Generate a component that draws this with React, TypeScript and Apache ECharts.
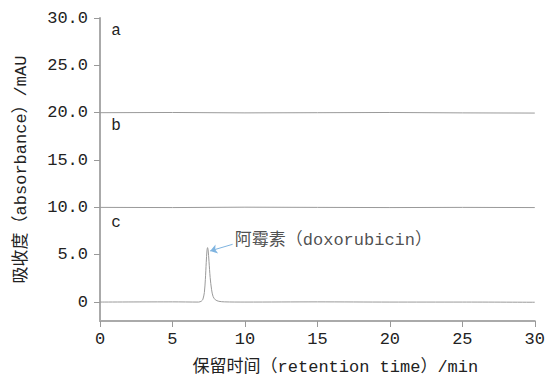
import React, { useEffect, useRef } from "react";
import * as echarts from "echarts";

// Retention time (min) and absorbance (mAU)
const traceA: [number, number][] = [[0, 20.0], [5, 20.02], [10, 19.98], [15, 20.0], [20, 20.02], [25, 19.98], [30, 19.96]];
const traceB: [number, number][] = [[0, 10.0], [5, 9.98], [10, 10.02], [15, 10.0], [20, 9.98], [25, 10.0], [30, 9.98]];
const traceC: [number, number][] = [
  [0, 0.0], [5, 0.02], [6.8, 0.0], [7.0, 0.1], [7.1, 0.3], [7.2, 1.0], [7.27, 2.4],
  [7.33, 4.2], [7.38, 5.4], [7.42, 5.75], [7.46, 5.5], [7.52, 4.3], [7.6, 2.6],
  [7.7, 1.3], [7.8, 0.6], [7.95, 0.25], [8.2, 0.08], [8.6, 0.02], [10, 0.0],
  [15, 0.02], [20, 0.0], [25, 0.0], [30, -0.02],
];
const traceNames = ["a", "b", "c"];
const traceLabelPos: [number, number][] = [[1.1, 28.6], [1.1, 18.6], [1.1, 8.4]];
const yTicks = [0, 5, 10, 15, 20, 25, 30];
const peakLabel = "阿霉素（doxorubicin）";
const peakLabelPos: [number, number] = [9.3, 6.45];
const arrowFrom: [number, number] = [9.15, 6.1];
const arrowTo: [number, number] = [7.6, 5.4];

const FONT = "'Liberation Mono', 'Noto Sans CJK SC', monospace";

export default function App() {
  const ref = useRef<HTMLDivElement>(null);
  useEffect(() => {
    if (!ref.current) return;
    const chart = echarts.init(ref.current, undefined, { renderer: "svg" });
    const traces = [traceA, traceB, traceC];
    const series: any[] = traces.map((d, i) => ({
      type: "line",
      name: traceNames[i],
      data: d,
      smooth: i === 2 ? 0.3 : false,
      showSymbol: false,
      lineStyle: { color: "#9a9a9a", width: 1 },
      markPoint: {
        symbol: "circle",
        symbolSize: 0,
        silent: true,
        data: [{ coord: traceLabelPos[i], value: traceNames[i] }],
        label: {
          show: true,
          position: "inside",
          formatter: traceNames[i],
          color: "#222",
          fontSize: 16,
          fontFamily: FONT,
        },
      },
    }));
    series[2].markLine = {
      silent: true,
      symbol: ["none", "arrow"],
      symbolSize: 7,
      lineStyle: { color: "#7fb4e0", width: 1, type: "solid" },
      label: { show: false },
      data: [[{ coord: arrowFrom }, { coord: arrowTo }]],
    };
    series.push({
      type: "scatter",
      data: [peakLabelPos],
      symbolSize: 0,
      silent: true,
      label: {
        show: true,
        position: "right",
        distance: 0,
        formatter: peakLabel,
        color: "#222",
        fontSize: 17,
        fontFamily: FONT,
      },
    });
    chart.setOption({
      animation: false,
      grid: { left: 100, right: 10, top: 18, bottom: 61, containLabel: false },
      xAxis: {
        type: "value",
        min: 0,
        max: 30,
        interval: 5,
        name: "保留时间（retention time）/min",
        nameLocation: "middle",
        nameGap: 38,
        nameTextStyle: { fontSize: 17, color: "#222", fontFamily: FONT, padding: [0, 0, 0, 36] },
        axisLine: { show: true, onZero: false, lineStyle: { color: "#aaa", width: 2 } },
        axisTick: { show: true, length: 6, lineStyle: { color: "#999" } },
        axisLabel: { fontSize: 17, color: "#222", fontFamily: FONT, margin: 10 },
        splitLine: { show: false },
      },
      yAxis: {
        type: "value",
        min: -2,
        max: 30,
        name: "吸收度（absorbance）/mAU",
        nameLocation: "middle",
        nameGap: 70,
        nameTextStyle: { fontSize: 17, color: "#222", fontFamily: FONT },
        axisLine: { show: true, lineStyle: { color: "#aaa", width: 2 } },
        axisTick: { show: true, length: 6, customValues: yTicks, lineStyle: { color: "#999" } },
        axisLabel: {
          customValues: yTicks,
          fontSize: 17,
          color: "#222",
          fontFamily: FONT,
          margin: 12,
          formatter: (v: number) => (v === 0 ? "0" : v.toFixed(1)),
        },
        splitLine: { show: false },
      },
      series,
    });
    return () => chart.dispose();
  }, []);
  return (
    <div
      ref={ref}
      style={{ position: "absolute", left: 0, top: 0, width: 548, height: 382 }}
    />
  );
}
